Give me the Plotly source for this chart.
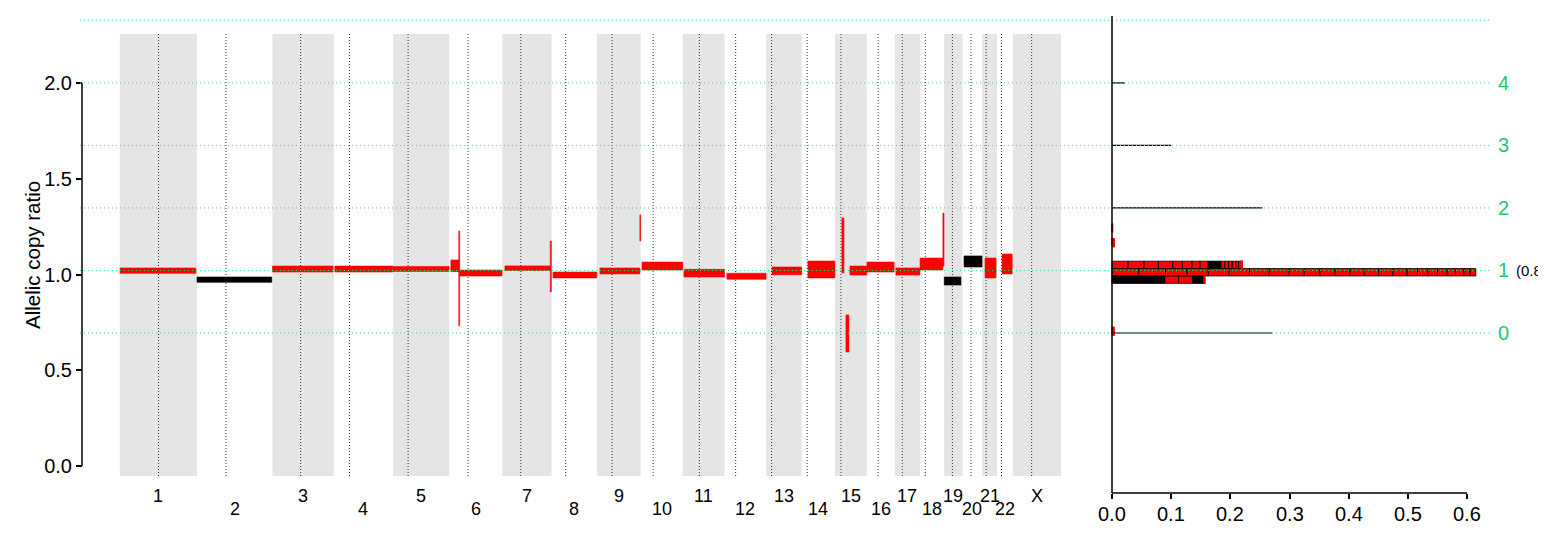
import math
import plotly.graph_objects as go

# ---------------- data ----------------
chrom_names = [str(i) for i in range(1, 23)] + ["X"]
chrom_len = [249.25, 243.20, 198.02, 191.15, 180.92, 171.12, 159.14, 146.36, 141.21,
             135.53, 135.01, 133.85, 115.17, 107.35, 102.53, 90.35, 81.20, 78.08,
             59.13, 63.03, 48.13, 51.30, 155.27]
centromere = [125.0, 93.3, 91.0, 50.4, 48.4, 61.0, 59.9, 45.6, 49.0, 40.2, 53.7, 35.8,
              17.9, 17.6, 19.0, 36.6, 24.0, 17.2, 26.5, 27.5, 13.2, 14.7, 60.6]

seg_chrom = ["1", "2", "3", "4", "5", "6", "6", "6", "7", "7", "8", "9", "9", "10", "11",
             "12", "13", "14", "15", "15", "15", "16", "17", "18", "18", "19", "20", "21", "22"]
seg_start = [0.8, 0.0, 0.2, 3.2, 0.3, 5.5, 31.0, 33.0, 8.7, 155.0, 4.5, 9.7, 138.5, 4.0, 4.0,
             7.7, 19.2, 20.0, 22.3, 35.2, 48.0, 0.5, 3.5, 0.2, 74.0, 0.2, 4.8, 9.7, 16.5]
seg_end = [245.0, 241.0, 195.6, 190.4, 180.5, 31.3, 34.0, 170.5, 154.5, 158.5, 146.0, 138.5,
           141.0, 135.5, 135.0, 133.8, 115.0, 107.0, 28.7, 44.8, 102.5, 88.0, 81.0, 74.0,
           77.5, 54.0, 63.0, 45.0, 49.0]
seg_low = [1.006, 0.959, 1.013, 1.013, 1.016, 1.015, 0.733, 0.992, 1.021, 0.909, 0.982, 1.003,
           1.175, 1.0235, 0.987, 0.975, 0.999, 0.982, 1.008, 0.595, 0.997, 1.013, 0.997,
           1.0235, 1.044, 0.945, 1.039, 0.982, 1.003]
seg_high = [1.034, 0.987, 1.044, 1.044, 1.042, 1.076, 1.227, 1.0235, 1.045, 1.175, 1.013, 1.034,
            1.311, 1.065, 1.027, 1.007, 1.039, 1.0705, 1.295, 0.789, 1.044, 1.065, 1.034,
            1.086, 1.321, 0.987, 1.097, 1.086, 1.107]
seg_color = ["red", "black", "red", "red", "red", "red", "red", "red", "red", "red", "red",
             "red", "red", "red", "red", "red", "red", "red", "red", "red", "red", "red", "red",
             "red", "red", "black", "black", "red", "red"]

# copy-number level grid (allelic copy ratio of each integer level)
cn_labels = ["0", "1", "2", "3", "4", ""]
cn_values = [0.6945, 1.021, 1.3475, 1.674, 2.0005, 2.327]
# mode weights drawn as thin lines in the side panel
w_levels = [0.6945, 1.3475, 1.674, 2.0005]
w_values = [0.271, 0.254, 0.100, 0.022]
purity_text = "(0.8"

y_ticks = [0.0, 0.5, 1.0, 1.5, 2.0]
hist_ticks = [0.0, 0.1, 0.2, 0.3, 0.4, 0.5, 0.6]

# ---------------- geometry ----------------
OFF = 8                       # page body margin
W, H = 1546 - OFF, 551 - OFF  # figure size so page fits the window
FONT = "Liberation Sans, Arial, Helvetica, sans-serif"
Y0PX, PXU = 466.0, 191.5      # (window px) y=0 pixel and pixels per unit


def ypx(p):
    return (Y0PX - p) / PXU


def px_x(p):
    return (p - OFF) / W


def px_y(p):
    return 1 - (p - OFF) / H


total = sum(chrom_len)
GX0, GX1 = 119.8, 1061.0
k = (GX1 - GX0) / total           # px per Mb
MAIN_R = 1100.0
HX0, HPX = 1112.0, (1467.0 - 1112.0) / 0.6

offset = {}
acc = 0.0
for n, L in zip(chrom_names, chrom_len):
    offset[n] = acc
    acc += L

BAND_BOT, BAND_TOP = ypx(476), ypx(34)

fig = go.Figure()
shapes = []
annotations = []

# alternating chromosome bands
for i, n in enumerate(chrom_names):
    if i % 2 == 0:
        shapes.append(dict(type="rect", xref="x", yref="y", x0=offset[n], x1=offset[n] + chrom_len[i],
                           y0=BAND_BOT, y1=BAND_TOP, fillcolor="#e5e5e5", line=dict(width=0),
                           layer="below"))
# centromere lines
for i, n in enumerate(chrom_names):
    xc = offset[n] + centromere[i]
    shapes.append(dict(type="line", xref="x", yref="y", x0=xc, x1=xc, y0=BAND_BOT, y1=BAND_TOP,
                       line=dict(color="#333333", width=1, dash="1px,2px"), layer="below"))

# segments
for col in ["red", "black"]:
    xs, ys = [], []
    for i in range(len(seg_chrom)):
        if seg_color[i] != col:
            continue
        o = offset[seg_chrom[i]]
        a, b = o + seg_start[i], o + seg_end[i]
        xs += [a, b, b, a, a, None]
        ys += [seg_low[i], seg_low[i], seg_high[i], seg_high[i], seg_low[i], None]
    fig.add_trace(go.Scatter(x=xs, y=ys, mode="lines", fill="toself", fillcolor=col,
                             line=dict(color=col, width=0.6), hoverinfo="skip",
                             xaxis="x", yaxis="y"))

# side histogram of segments
HIST_BASE, HIST_BW = 0.9925, 0.0385
seg_len = [e - s for s, e in zip(seg_start, seg_end)]
tot_len = sum(seg_len)
bins = {}
for i in range(len(seg_chrom)):
    c = (seg_low[i] + seg_high[i]) / 2
    kb = math.floor((c - HIST_BASE) / HIST_BW)
    bins.setdefault(kb, []).append(i)
boxes = {"red": ([], []), "black": ([], []), "tiny": ([], [])}
for kb, idx in bins.items():
    idx.sort(key=lambda j: -seg_len[j])
    b0 = HIST_BASE + kb * HIST_BW
    b1 = b0 + HIST_BW
    x = 0.0
    for j in idx:
        w = seg_len[j] / tot_len
        key = seg_color[j] if w > 0.005 else "tiny"
        for _ in range(2):
            bx, by = boxes[key]
            bx += [x, x + w / 2, x + w / 2, x, x, None]
            by += [b0, b0, b1, b1, b0, None]
            x += w / 2

fig.add_trace(go.Scatter(x=boxes["red"][0], y=boxes["red"][1], mode="lines", fill="toself",
                         fillcolor="red", line=dict(color="rgba(30,0,0,0.85)", width=1),
                         hoverinfo="skip", xaxis="x2", yaxis="y"))
fig.add_trace(go.Scatter(x=boxes["black"][0], y=boxes["black"][1], mode="lines", fill="toself",
                         fillcolor="black", line=dict(color="black", width=1),
                         hoverinfo="skip", xaxis="x2", yaxis="y"))
fig.add_trace(go.Scatter(x=boxes["tiny"][0], y=boxes["tiny"][1], mode="lines", fill="toself",
                         fillcolor="red", line=dict(color="red", width=1.5),
                         hoverinfo="skip", xaxis="x2", yaxis="y"))

# weight lines
wx, wy = [], []
for lv, wv in zip(w_levels, w_values):
    wx += [0, wv, None]
    wy += [lv, lv, None]
fig.add_trace(go.Scatter(x=wx, y=wy, mode="lines", line=dict(color="black", width=1.2),
                         hoverinfo="skip", xaxis="x2", yaxis="y"))

# green level lines and labels
for lab, v in zip(cn_labels, cn_values):
    shapes.append(dict(type="line", xref="paper", yref="y", x0=px_x(80), x1=px_x(1492), y0=v, y1=v,
                       line=dict(color="rgb(70,215,140)", width=1, dash="1px,3px"), layer="above"))
    if lab:
        annotations.append(dict(xref="paper", yref="y", x=px_x(1503), y=v, text=lab, showarrow=False,
                                xanchor="center", yanchor="middle",
                                font=dict(family=FONT, size=20, color="rgb(30,200,110)")))
annotations.append(dict(xref="paper", yref="y", x=px_x(1515), y=cn_values[1], text=purity_text,
                        showarrow=False, xanchor="left", yanchor="middle", borderpad=0,
                        font=dict(family=FONT, size=15, color="black")))

# axis lines (R style, span ticks only)
shapes.append(dict(type="line", xref="paper", yref="y", x0=px_x(82), x1=px_x(82), y0=y_ticks[0],
                   y1=y_ticks[-1], line=dict(color="black", width=1.5)))
shapes.append(dict(type="line", xref="x2", yref="paper", x0=0, x1=0, y0=px_y(493),
                   y1=px_y(16), line=dict(color="black", width=1.5)))
shapes.append(dict(type="line", xref="x2", yref="paper", x0=hist_ticks[0], x1=hist_ticks[-1],
                   y0=px_y(493), y1=px_y(493), line=dict(color="black", width=1.5)))

# side-panel tick labels
for t in hist_ticks:
    annotations.append(dict(xref="x2", yref="paper", x=t, y=px_y(514), text=f"{t:.1f}",
                            showarrow=False, xanchor="center", yanchor="middle",
                            font=dict(family=FONT, size=20, color="black")))

# chromosome labels
for i, n in enumerate(chrom_names):
    annotations.append(dict(xref="x", yref="paper", x=offset[n] + chrom_len[i] / 2,
                            y=px_y(496 if i % 2 == 0 else 509), text=n, showarrow=False,
                            xanchor="center", yanchor="middle",
                            font=dict(family=FONT, size=18, color="black")))

# y axis title
annotations.append(dict(xref="paper", yref="paper", x=px_x(32), y=px_y(255), text="Allelic copy ratio",
                        textangle=-90, showarrow=False, xanchor="center", yanchor="middle",
                        font=dict(family=FONT, size=20.5, color="black")))

fig.update_layout(
    width=W, height=H, margin=dict(l=0, r=0, t=0, b=0),
    paper_bgcolor="white", plot_bgcolor="white", showlegend=False,
    font=dict(family=FONT, color="black"),
    xaxis=dict(domain=[0, px_x(MAIN_R)], range=[(OFF - GX0) / k, (MAIN_R - GX0) / k],
               visible=False, anchor="y"),
    yaxis=dict(domain=[0, 1], range=[ypx(551), ypx(OFF)], anchor="free", position=px_x(82),
               tickmode="array", tickvals=y_ticks, ticktext=[f"{t:.1f}" for t in y_ticks],
               ticks="outside", ticklen=6, tickwidth=1.5, tickcolor="black",
               showgrid=False, zeroline=False, showline=False,
               tickfont=dict(family=FONT, size=20, color="black")),
    xaxis2=dict(domain=[px_x(MAIN_R), 1], range=[(MAIN_R - HX0) / HPX, (1546 - HX0) / HPX],
                anchor="free", position=px_y(493),
                tickmode="array", tickvals=hist_ticks, showticklabels=False,
                ticks="outside", ticklen=5, tickwidth=1.5, tickcolor="black",
                showgrid=False, zeroline=False, showline=False),
    shapes=shapes, annotations=annotations,
)

fig.write_html("out.html")
